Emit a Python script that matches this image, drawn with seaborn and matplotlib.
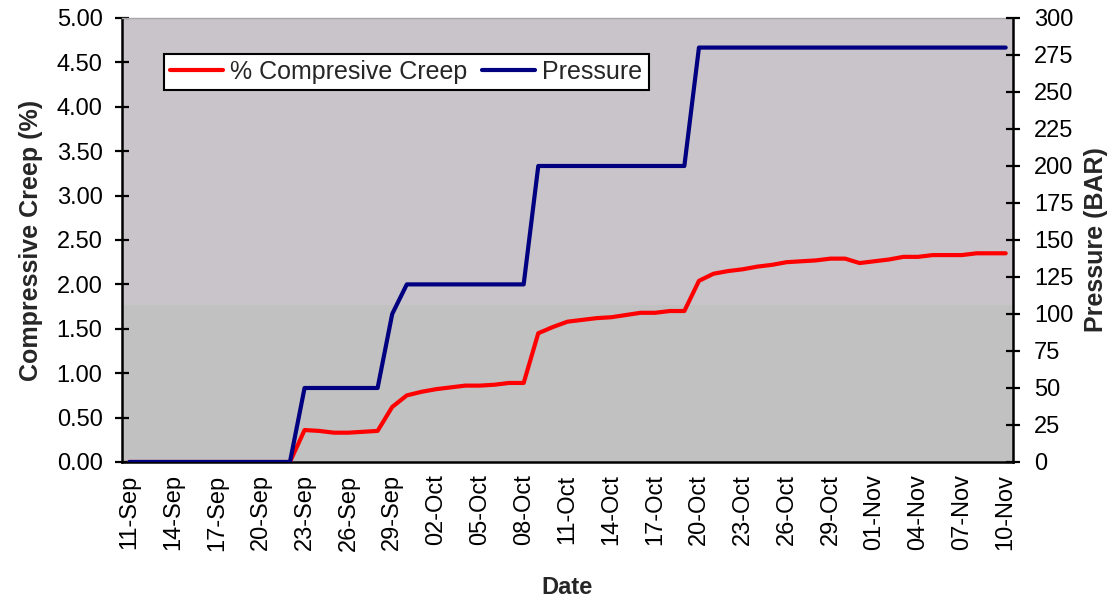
import matplotlib
matplotlib.use("Agg")
import matplotlib.pyplot as plt
from matplotlib.ticker import FixedLocator, FormatStrFormatter
import seaborn as sns
import pandas as pd
import numpy as np

# ---- data ----
start_date = "2023-09-11"
n_days = 61
creep = [0, 0, 0, 0, 0, 0, 0, 0, 0, 0, 0, 0,
         0.36, 0.35, 0.33, 0.33, 0.34, 0.35, 0.62, 0.75,
         0.79, 0.82, 0.84, 0.86, 0.86, 0.87, 0.89, 0.89,
         1.45, 1.52, 1.58, 1.60, 1.62, 1.63, 1.655, 1.68, 1.68, 1.70, 1.70,
         2.04, 2.12, 2.15, 2.17, 2.20, 2.22, 2.25, 2.26, 2.27, 2.29, 2.29, 2.24,
         2.26, 2.28, 2.31, 2.31, 2.33, 2.33, 2.33, 2.35, 2.35, 2.35]
pressure = [0] * 12 + [50] * 6 + [100, 120] + [120] * 8 + [200] * 11 + [280] * 22
creep_ticks = [0, 0.5, 1.0, 1.5, 2.0, 2.5, 3.0, 3.5, 4.0, 4.5, 5.0]
pressure_ticks = [0, 25, 50, 75, 100, 125, 150, 175, 200, 225, 250, 275, 300]
series_names = ["% Compresive Creep", "Pressure"]

dates = pd.date_range(start_date, periods=n_days, freq="D")
df = pd.DataFrame({"day": np.arange(n_days), "creep": creep, "pressure": pressure})
date_labels = [d.strftime("%d-%b") for d in dates]

sns.set_style("white")
plt.rcParams["font.family"] = ["Liberation Sans", "DejaVu Sans"]

fig = plt.figure(figsize=(11.17, 6.01), dpi=100)
ax = fig.add_axes([0.1092, 0.2313, 0.7977, 0.7388])
ax2 = ax.twinx()

ax.set_facecolor("#c9c4c9")
ax.axhspan(0, 1.77, color="#c1c1c1", zorder=0, lw=0)

sns.lineplot(data=df, x="day", y="creep", ax=ax, color="#ff0000", lw=3.0,
             label=series_names[0], legend=False, zorder=3)
sns.lineplot(data=df, x="day", y="pressure", ax=ax2, color="#000080", lw=3.0,
             label=series_names[1], legend=False, zorder=3)

ax.set_ylim(0, 5)
ax2.set_ylim(0, 300)
ax.set_xlim(-0.5, n_days - 0.5)

ax.yaxis.set_major_locator(FixedLocator(creep_ticks))
ax.yaxis.set_major_formatter(FormatStrFormatter("%.2f"))
ax2.yaxis.set_major_locator(FixedLocator(pressure_ticks))

label_pos = list(range(0, n_days, 3))
ax.set_xticks(label_pos)
ax.set_xticklabels([date_labels[i] for i in label_pos], rotation=90)
ax.xaxis.set_minor_locator(FixedLocator(np.arange(0.5, n_days - 0.5, 1.0)))

tick_fs = 17
ax.tick_params(axis="x", which="major", length=0, pad=9, labelsize=tick_fs, colors="black")
ax.tick_params(axis="x", which="minor", direction="inout", length=10, width=1.6, color="black")
ax.tick_params(axis="y", direction="inout", length=10, width=1.6, pad=9, labelsize=tick_fs, colors="black")
ax2.tick_params(axis="y", direction="inout", length=10, width=1.6, pad=10, labelsize=tick_fs, colors="black")

for a in (ax, ax2):
    for s in a.spines.values():
        s.set_visible(False)
ax.spines["left"].set_visible(True)
ax.spines["bottom"].set_visible(True)
ax2.spines["right"].set_visible(True)
for s in (ax.spines["left"], ax.spines["bottom"], ax2.spines["right"]):
    s.set_color("black")
    s.set_linewidth(1.8)
ax.spines["top"].set_visible(True)
ax.spines["top"].set_color("#a8a8a8")
ax.spines["top"].set_linewidth(1.0)

ax.set_xlabel("Date", fontsize=17, fontweight="bold", labelpad=18)
ax.set_ylabel("Compressive Creep (%)", fontsize=18, fontweight="bold", labelpad=10)
ax2.set_ylabel("Pressure (BAR)", fontsize=18, fontweight="bold", labelpad=8)

h1, l1 = ax.get_legend_handles_labels()
h2, l2 = ax2.get_legend_handles_labels()
leg = ax2.legend(h1 + h2, l1 + l2, loc="upper left", bbox_to_anchor=(0.047, 0.919),
                 ncol=2, fontsize=18, frameon=True, fancybox=False, framealpha=1,
                 edgecolor="black", borderpad=0.25, handlelength=2.1,
                 handletextpad=0.3, columnspacing=0.6, borderaxespad=0)
leg.get_frame().set_linewidth(1.5)
leg.get_frame().set_facecolor("white")

fig.savefig("out.png", dpi=100, facecolor="white")
